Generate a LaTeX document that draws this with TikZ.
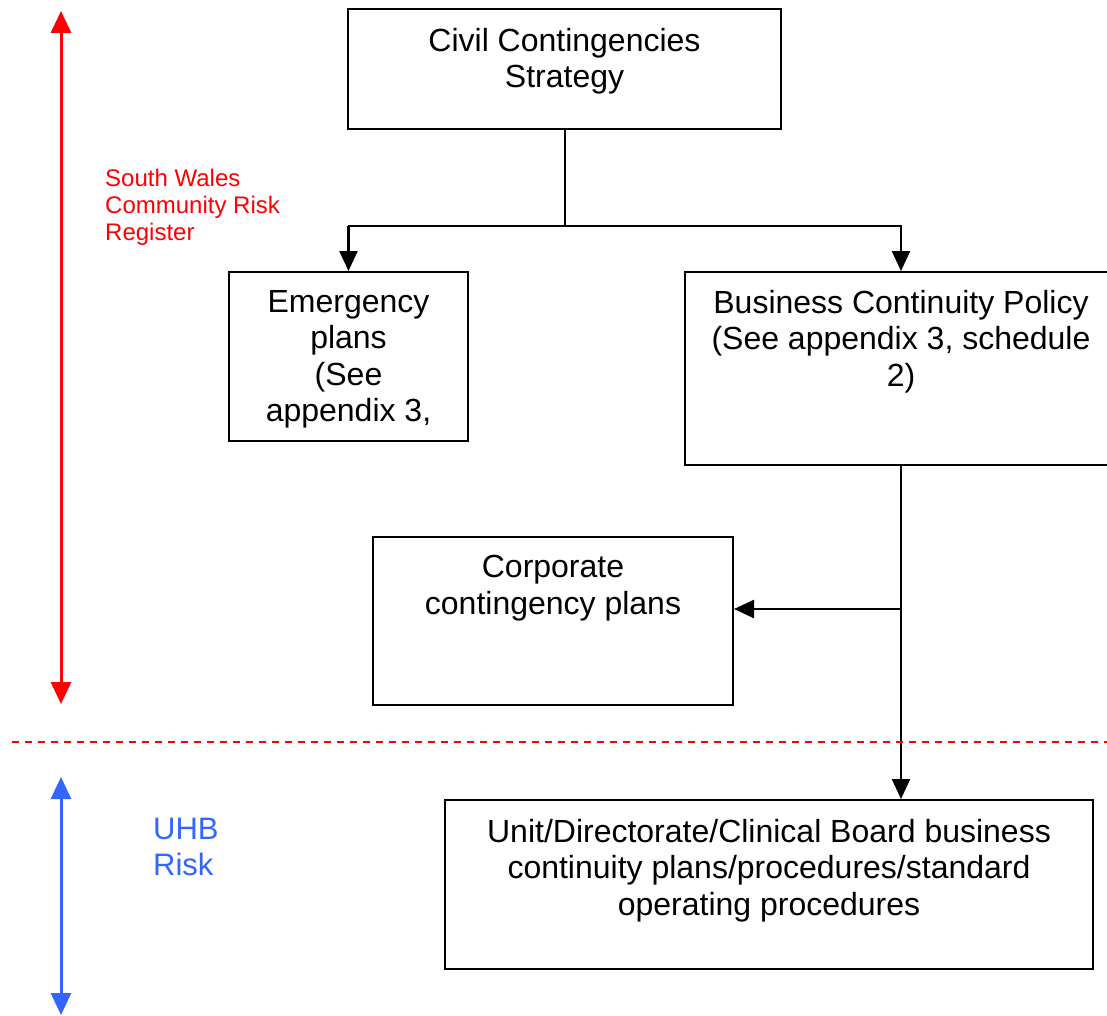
\documentclass[tikz,border=0pt]{standalone}
\usepackage{fontspec}
\setmainfont{Liberation Sans}
\usetikzlibrary{arrows.meta}
\definecolor{riskred}{RGB}{255,0,0}
\definecolor{uhbblue}{RGB}{51,102,255}
\begin{document}
\begin{tikzpicture}[x=1pt,y=-1pt,
  planbox/.style={draw,line width=2pt,minimum width=#1,inner sep=0pt},
  boxtext/.style={anchor=north,inner sep=0pt,align=center,font=\fontsize{32}{36.5}\selectfont},
  link/.style={line width=2pt},
  linkarrow/.style={line width=2.5pt,-{Triangle[length=20pt,width=18pt]}},
  scalearrow/.style={line width=3pt,{Triangle[length=22pt,width=20pt]}-{Triangle[length=22pt,width=20pt]}}]
\useasboundingbox (0,0) rectangle (1107,1016);
\clip (0,0) rectangle (1107,1016);

% plan boxes
\node[planbox=433pt,minimum height=120pt] (civil) at (564.5,69) {};
\node[planbox=239pt,minimum height=169pt] (emerg) at (348.5,356.5) {};
\node[planbox=432pt,minimum height=193pt] (bcp) at (901,368.5) {};
\node[planbox=360pt,minimum height=168pt] (corp) at (553,621) {};
\node[planbox=648pt,minimum height=169pt] (unit) at (769,884.5) {};

% box texts
\node[boxtext] (civiltxt) at (564.5,28) {Civil Contingencies\\Strategy};
\node[boxtext] (emergtxt) at (348.5,290) {Emergency\\plans\\(See\\appendix 3,};
\node[boxtext] (bcptxt) at (901,290) {Business Continuity Policy\\(See appendix 3, schedule\\2)};
\node[boxtext] (corptxt) at (553,555) {Corporate\\contingency plans};
\node[boxtext] (unittxt) at (769,819) {Unit/Directorate/Clinical Board business\\continuity plans/procedures/standard\\operating procedures};

% connectors
\coordinate (corpin) at ([yshift=12pt]corp.east);
\draw[link] (civil.south) -- ++(0,96) coordinate (split);
\draw[link,line cap=rect] (emerg.north |- split) -- (bcp.north |- split);
\draw[linkarrow] (emerg.north |- split) -- (emerg.north);
\draw[linkarrow] (bcp.north |- split) -- (bcp.north);
\draw[linkarrow] (bcp.south) -- (bcp.south |- unit.north);
\draw[linkarrow] (bcp.south |- corpin) -- (corpin);

% risk level scale on the left
\coordinate (redtop) at (61,11);
\coordinate (redbot) at (61,704);
\coordinate (bluetop) at (61,777);
\coordinate (bluebot) at (61,1015);
\draw[scalearrow,draw=riskred,fill=riskred] (redtop) -- (redbot);
\draw[scalearrow,draw=uhbblue,fill=uhbblue] (bluetop) -- (bluebot);
\node[anchor=north west,inner sep=0pt,align=left,text=riskred,font=\fontsize{24}{27}\selectfont] (swcrr) at (105,169) {South Wales\\Community Risk\\Register};
\node[anchor=north west,inner sep=0pt,align=left,text=uhbblue,font=\fontsize{31}{36}\selectfont] (uhb) at (153,818) {UHB\\Risk};

% boundary between the two risk levels
\coordinate (divl) at (12,742);
\coordinate (divr) at (1107,742);
\draw[riskred,line width=2pt,dash pattern=on 7pt off 6pt] (divl) -- (divr);
\end{tikzpicture}
\end{document}
